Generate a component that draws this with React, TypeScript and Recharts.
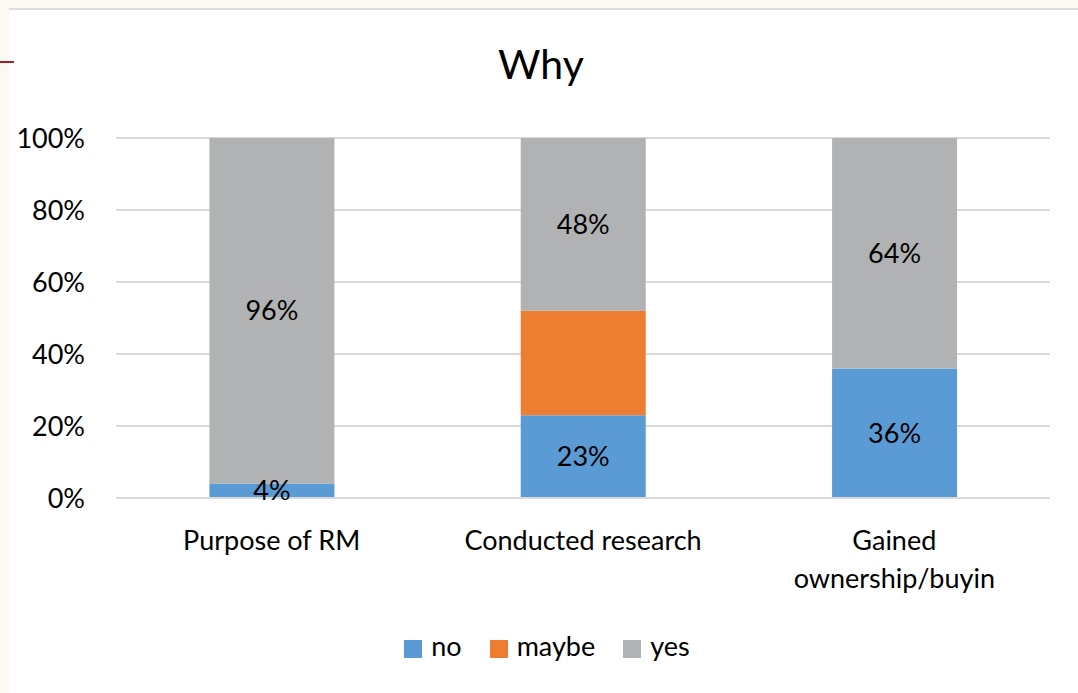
import { BarChart, Bar, XAxis, YAxis, CartesianGrid, Legend, LabelList } from 'recharts';

const categories = ['Purpose of RM', 'Conducted research', 'Gained ownership/buyin'];
const noValues = [4, 23, 36];
const maybeValues = [0, 29, 0];
const yesValues = [96, 48, 64];
const yTicks = [0, 20, 40, 60, 80, 100];
const seriesOrder = ['no', 'maybe', 'yes'];

const FONT = 'Lato, "Open Sans", sans-serif';

const data = categories.map((name, i) => ({
	name,
	no: noValues[i],
	maybe: maybeValues[i],
	yes: yesValues[i],
}));

const pct = (v: any) => (v ? `${v}%` : '');

// long x labels break at the first space, like the office chart does
const CategoryTick = (props: any) => {
	const { x, y, payload } = props;
	const label: string = payload.value;
	const lines = label.length > 20 ? [label.slice(0, label.indexOf(' ')), label.slice(label.indexOf(' ') + 1)] : [label];
	return (
		<text x={x} y={y} textAnchor="middle" fontSize={27} fontFamily={FONT} fill="#000">
			{lines.map((line, i) => (
				<tspan key={i} x={x} dy={i === 0 ? 44 : 38}>
					{line}
				</tspan>
			))}
		</text>
	);
};

export default function App() {
	return (
		<div style={{ position: 'absolute', left: 0, top: 0, width: 1078, height: 693, background: '#FCF9F3', overflow: 'hidden' }}>
			<div style={{ position: 'absolute', left: 9, top: 8, right: 0, height: 2, background: '#DEDEDE' }} />
			<div style={{ position: 'absolute', left: 9, top: 10, right: 0, bottom: 0, background: '#fff' }} />
			<div style={{ position: 'absolute', left: 0, top: 61, width: 14, height: 2, background: '#A31D2C' }} />
			<div style={{ position: 'absolute', left: 0, top: 39, width: 1078, textAlign: 'center', fontFamily: FONT, fontSize: 41, color: '#000', paddingLeft: 2 }}>
				Why
			</div>
			<div style={{ position: 'absolute', left: 0, top: 0 }}>
				<BarChart
					width={1078}
					height={693}
					data={data}
					margin={{ top: 138, right: 28, bottom: 95, left: 26 }}
					barCategoryGap="30%"
				>
					<CartesianGrid vertical={false} stroke="#D9D9D9" strokeWidth={2} />
					<XAxis
						dataKey="name"
						axisLine={{ stroke: '#D9D9D9', strokeWidth: 2 }}
						tickLine={false}
						tick={<CategoryTick />}
						interval={0}
						height={100}
					/>
					<YAxis
						domain={[0, 100]}
						ticks={yTicks}
						tickFormatter={(v) => `${v}%`}
						axisLine={false}
						tickLine={false}
						width={90}
						tickMargin={25}
						tick={{ fontSize: 27, fontFamily: FONT, fill: '#000' }}
					/>
					<Legend
						layout="horizontal"
						verticalAlign="middle"
						align="center"
						iconType="square"
						iconSize={18}
						itemSorter={(item: any) => seriesOrder.indexOf(item.dataKey)}
						wrapperStyle={{ top: 629, left: 22, width: 1078, fontFamily: FONT, fontSize: 27 }}
						formatter={(value) => <span style={{ color: '#000', marginLeft: 5, marginRight: 18 }}>{value}</span>}
					/>
					<Bar dataKey="no" stackId="a" fill="#5B9BD5" isAnimationActive={false}>
						<LabelList dataKey="no" position="center" formatter={pct} fill="#000" fontSize={27} fontFamily={FONT} />
					</Bar>
					<Bar dataKey="maybe" stackId="a" fill="#ED7D31" isAnimationActive={false} />
					<Bar dataKey="yes" stackId="a" fill="#B1B2B4" isAnimationActive={false}>
						<LabelList dataKey="yes" position="center" formatter={pct} fill="#000" fontSize={27} fontFamily={FONT} />
					</Bar>
				</BarChart>
			</div>
		</div>
	);
}
